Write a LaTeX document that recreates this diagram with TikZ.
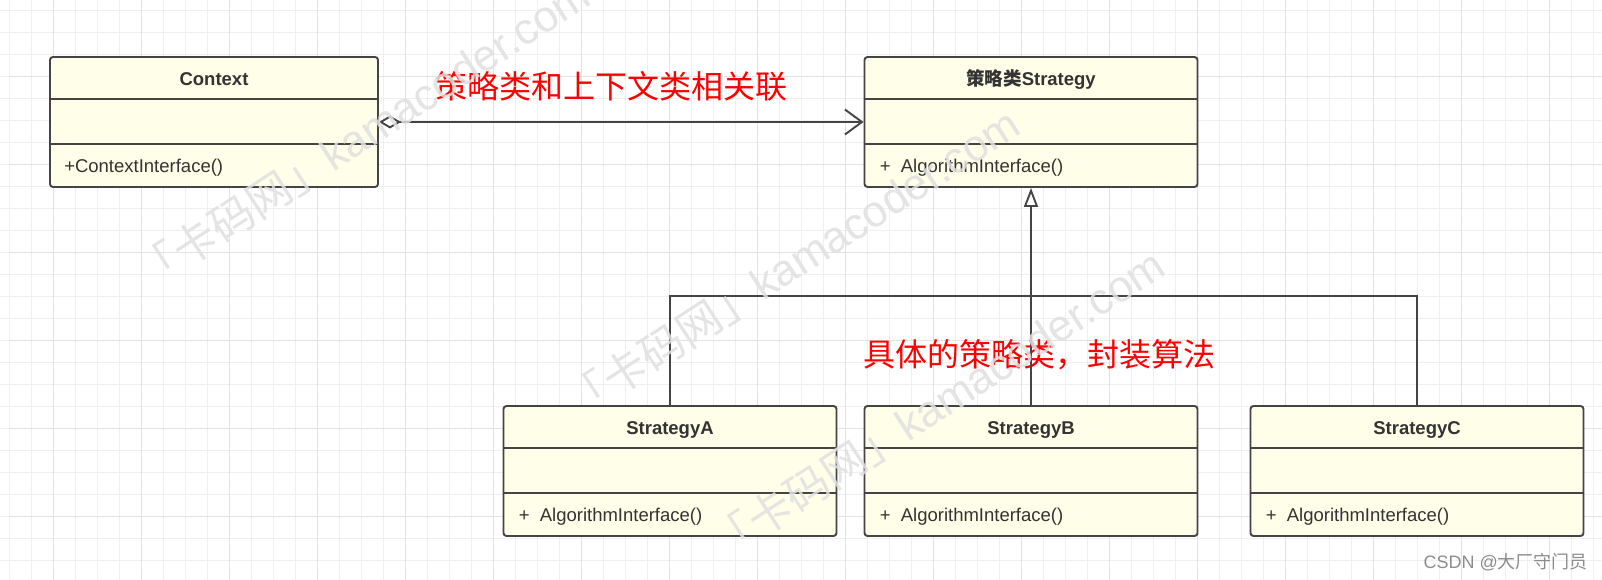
\documentclass[tikz,border=0pt]{standalone}
\usepackage{fontspec}
\setmainfont{Liberation Sans}
\newfontfamily\cjk{Noto Sans CJK SC}
\usepackage{xcolor}
\usepackage{tikz}
\usetikzlibrary{arrows.meta}

\definecolor{boxfill}{HTML}{FFFEE8}
\definecolor{umldark}{HTML}{444444}
\definecolor{umltext}{HTML}{333333}
\definecolor{minorgray}{HTML}{EFEFEF}
\definecolor{majorgray}{HTML}{E2E2E2}
\definecolor{wmgray}{HTML}{E0E0E0}
\definecolor{csdngray}{HTML}{8C8C8C}

\tikzset{
  minorgrid/.style={minorgray, line width=1pt},
  majorgrid/.style={majorgray, line width=1pt},
  umlline/.style={umldark, line width=1.9pt},
  umlbox/.style={draw=umldark, fill=boxfill, line width=1.9pt, rounded corners=3pt,
    minimum width=333pt, minimum height=130pt, inner sep=0},
  umltitle/.style={anchor=base, inner sep=0, text=umltext, font=\bfseries\fontsize{18.5}{22}\selectfont},
  umlop/.style={anchor=base west, inner sep=0, text=umltext, font=\fontsize{18.5}{22}\selectfont},
  aggr/.style={umlline, {Diamond[fill=white, length=22pt, width=13pt]}-{Straight Barb[length=17pt, width=25pt]}},
  realize/.style={umlline, -{Triangle[fill=white, length=19pt, width=14pt]}},
  note/.style={text=red, inner sep=0, font=\cjk\fontsize{32}{36}\selectfont},
  wmark/.style={rotate=33, inner sep=0, text=wmgray, text opacity=0.85, font=\fontsize{44}{44}\selectfont}
}

\begin{document}
\begin{tikzpicture}[x=1pt, y=1pt]
\useasboundingbox (0,0) rectangle (1602,580);
\fill[white] (0,0) rectangle (1602,580);
% grid paper
\begin{scope}[shift={(9,19)}]
\draw[step=22pt, minorgrid] (-9,-19) grid (1593,561);
\end{scope}
\begin{scope}[shift={(53,63)}]
\draw[step=88pt, majorgrid] (-44,-63) grid (1549,517);
\end{scope}

% classes
\node[umlbox, minimum width=328pt] (context) at (214,458) {};
\node[umlbox] (strategy) at (1031,458) {};
\node[umlbox] (stratA) at (670,109) {};
\node[umlbox] (stratB) at (1031,109) {};
\node[umlbox] (stratC) at (1417,109) {};
\foreach \b in {context,strategy,stratA,stratB,stratC} {
  \draw[umlline] ([yshift=-43pt]\b.north west) -- ([yshift=-43pt]\b.north east);
  \draw[umlline] ([yshift=44pt]\b.south west) -- ([yshift=44pt]\b.south east);
}

\node[umltitle] (context-name) at ([yshift=-29pt]context.north) {Context};
\node[umltitle] (strategy-name) at ([yshift=-29pt]strategy.north) {{\cjk 策略类}Strategy};
\node[umltitle] (stratA-name) at ([yshift=-29pt]stratA.north) {StrategyA};
\node[umltitle] (stratB-name) at ([yshift=-29pt]stratB.north) {StrategyB};
\node[umltitle] (stratC-name) at ([yshift=-29pt]stratC.north) {StrategyC};

\node[umlop] (context-op) at ([xshift=15pt,yshift=15pt]context.south west) {+ContextInterface()};
\node[umlop] (strategy-op) at ([xshift=16pt,yshift=15pt]strategy.south west) {+~~AlgorithmInterface()};
\node[umlop] (stratA-op) at ([xshift=16pt,yshift=15pt]stratA.south west) {+~~AlgorithmInterface()};
\node[umlop] (stratB-op) at ([xshift=16pt,yshift=15pt]stratB.south west) {+~~AlgorithmInterface()};
\node[umlop] (stratC-op) at ([xshift=16pt,yshift=15pt]stratC.south west) {+~~AlgorithmInterface()};

% notes
\node[note] (assoc-note) at (611,494) {策略类和上下文类相关联};
\node[note] (concrete-note) at (1039,225) {具体的策略类，封装算法};

% relations
\draw[aggr] (context.east) -- (strategy.west);
\draw[realize] (stratB.north) -- (strategy.south);
\coordinate (bar) at (0,284);
\draw[umlline] (stratA.north) |- (bar -| stratC.north) -- (stratC.north);

% watermarks
\node[wmark] (wm1) at (362,446) {{\cjk 「卡码网」}kamacoder.com};
\node[wmark] (wm2) at (792,317) {{\cjk 「卡码网」}kamacoder.com};
\node[wmark] (wm3) at (937,176) {{\cjk 「卡码网」}kamacoder.com};
\node[anchor=east, inner sep=0, text=csdngray, font=\fontsize{18}{20}\selectfont] (csdn) at (1588,18) {CSDN @{\cjk 大厂守门员}};
\end{tikzpicture}
\end{document}
